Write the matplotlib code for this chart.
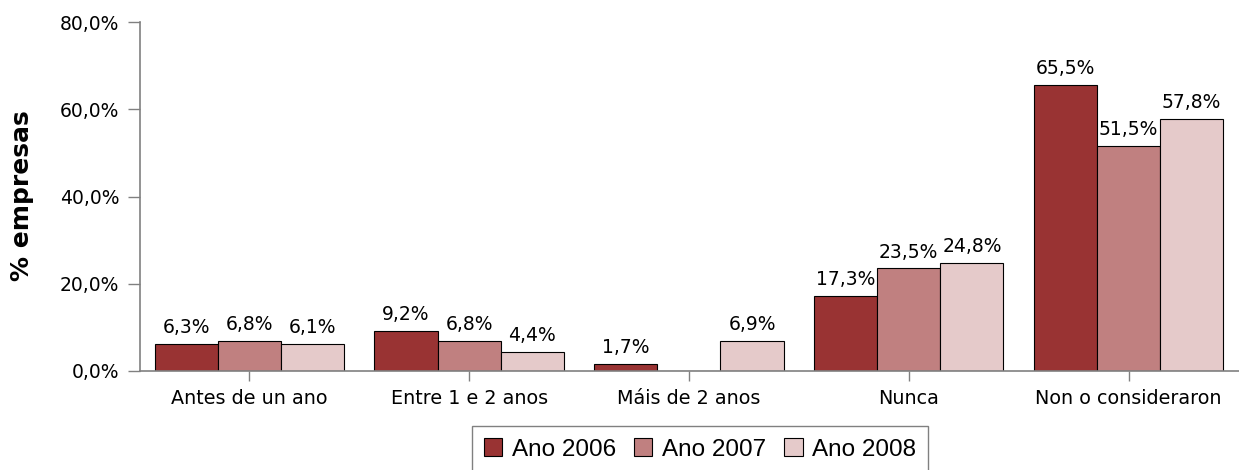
import matplotlib
matplotlib.use("Agg")
import matplotlib.pyplot as plt
import numpy as np

categories = ["Antes de un ano", "Entre 1 e 2 anos", "Máis de 2 anos", "Nunca", "Non o consideraron"]
series_names = ["Ano 2006", "Ano 2007", "Ano 2008"]
ano_2006 = [6.3, 9.2, 1.7, 17.3, 65.5]
ano_2007 = [6.8, 6.8, 0.0, 23.5, 51.5]
ano_2008 = [6.1, 4.4, 6.9, 24.8, 57.8]
colors = ["#993333", "#C08080", "#E5CACA"]
y_ticks = [0, 20, 40, 60, 80]

def fmt(v):
    return f"{v:.1f}".replace(".", ",") + "%"

fig = plt.figure(figsize=(12.39, 4.70), dpi=100)
ax = fig.add_axes([140/1239, (470-371)/470, 1 - 140/1239, (371-22)/470])

x = np.arange(len(categories))
w = 0.287
for i, (vals, name, c) in enumerate(zip([ano_2006, ano_2007, ano_2008], series_names, colors)):
    pos = x + (i - 1) * w
    ax.bar(pos, vals, width=w, color=c, edgecolor="black", linewidth=0.8, label=name)
    for p, v in zip(pos, vals):
        if v > 0:
            ax.text(p, v + 1.6, fmt(v), ha="center", va="bottom", fontsize=13.5, color="black")

ax.set_ylim(0, 80)
ax.set_xlim(-0.497, 4.502)
ax.set_yticks(y_ticks)
ax.set_yticklabels([fmt(t) for t in y_ticks], fontsize=13.5)
ax.set_xticks(x)
ax.set_xticklabels(categories, fontsize=13.8)
ax.tick_params(axis="y", direction="out", length=8.5, width=1, color="#808080", pad=6.5)
ax.tick_params(axis="x", direction="out", length=7, width=1, color="#808080", pad=6)
for s in ["top", "right"]:
    ax.spines[s].set_visible(False)
for s in ["left", "bottom"]:
    ax.spines[s].set_color("#808080")
    ax.spines[s].set_linewidth(1.2)

ax.set_ylabel("% empresas", fontsize=18, fontweight="bold")
ax.yaxis.set_label_coords((34 - 140) / 1099, (371 - 196) / 349)

leg = fig.legend(loc="upper center", bbox_to_anchor=(700/1239, (470-426)/470), ncol=3,
                 prop={"family": "Liberation Sans", "size": 17.5}, frameon=True, fancybox=False,
                 edgecolor="#606060", handlelength=0.75, handleheight=0.75, handletextpad=0.4,
                 columnspacing=0.75, borderpad=0.5, borderaxespad=0)
leg.get_frame().set_linewidth(1.0)
for h in leg.legend_handles:
    h.set_edgecolor("black")
    h.set_linewidth(0.8)

fig.savefig("out.png", dpi=100)
